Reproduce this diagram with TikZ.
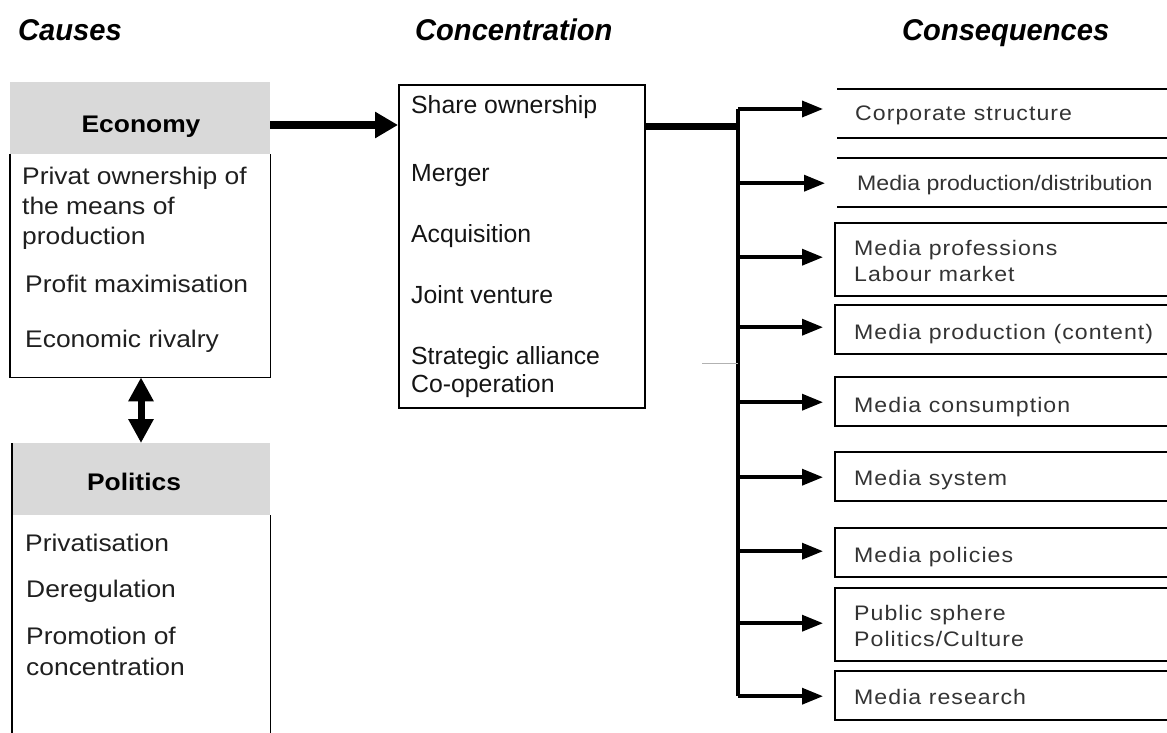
\documentclass[tikz,border=0pt]{standalone}
\usepackage{fontspec}
\setmainfont{Liberation Sans}
\newfontfamily\lfont[FakeStretch=1.1]{Liberation Sans}
\newfontfamily\hfont[FakeStretch=0.97]{Liberation Sans}
\newfontfamily\rfont[FakeStretch=1.1,LetterSpace=5]{Liberation Sans}
\newfontfamily\rfontn[FakeStretch=1.1]{Liberation Sans}
\usetikzlibrary{arrows.meta}
\definecolor{headgray}{HTML}{D9D9D9}
\begin{document}
\begin{tikzpicture}[x=1pt,y=-1pt,
  txtL/.style={anchor=base west, inner sep=0pt, font=\lfont\fontsize{24}{28}\selectfont, text=black!88},
  txtC/.style={anchor=base west, inner sep=0pt, font=\fontsize{24.8}{28}\selectfont, text=black!92},
  txtR/.style={anchor=base west, inner sep=0pt, font=\rfont\fontsize{21}{25}\selectfont, text=black!80},
  heading/.style={anchor=base west, inner sep=0pt, font=\hfont\bfseries\itshape\fontsize{30}{34}\selectfont},
  hdrbox/.style={fill=headgray, anchor=north west, inner sep=0pt},
  hdrtxt/.style={anchor=base, inner sep=0pt, font=\lfont\bfseries\fontsize{24}{28}\selectfont},
  boxline/.style={line width=1.8pt},
  rline/.style={line width=2pt},
  plain/.style={anchor=north west, inner sep=0pt},
  branch/.style={line width=3.5pt, -{Triangle[length=21pt,width=16pt]}},
  bigarrow/.style={line width=8pt, -{Triangle[length=23pt,width=25pt]}},
  dblarrow/.style={line width=7pt, {Triangle[length=24pt,width=24pt]}-{Triangle[length=24pt,width=24pt]}}
]
\useasboundingbox (0,0) rectangle (1167,733);
\fill[white] (0,0) rectangle (1167,733);

% headings
\node[heading] (hcauses) at (18,41) {Causes};
\node[heading] (hconc) at (415,41) {Concentration};
\node[heading] (hcons) at (902,41) {Consequences};

% Economy
\node[hdrbox, minimum width=260pt, minimum height=72pt] (econ) at (10,82) {};
\node[hdrtxt] (econt) at (141,132) {Economy};
\node[plain, minimum width=260pt, minimum height=223pt] (econbody) at (10,154) {};
\draw[boxline] (econbody.north west) -- (econbody.south west) -- (econbody.south east) -- (econbody.north east);
\node[txtL] (e1) at (22,184) {Privat ownership of};
\node[txtL] (e2) at (22,214) {the means of};
\node[txtL] (e3) at (22,244) {production};
\node[txtL] (e4) at (25,292) {Profit maximisation};
\node[txtL] (e5) at (25,347) {Economic rivalry};

% Politics
\node[hdrbox, minimum width=258pt, minimum height=72pt] (pol) at (12,443) {};
\node[hdrtxt] (polt) at (134,490) {Politics};
\node[plain, minimum width=258pt, minimum height=230pt] (polbody) at (12,515) {};
\draw[line width=1.2pt] (pol.north west) -- (polbody.south west);
\draw[boxline] (polbody.north east) -- (polbody.south east);
\node[txtL] (p1) at (25,551) {Privatisation};
\node[txtL] (p2) at (26,597) {Deregulation};
\node[txtL] (p3) at (26,644) {Promotion of};
\node[txtL] (p4) at (26,675) {concentration};

\draw[dblarrow] (econbody.south -| 141,0) -- (pol.north -| 141,0);

% Concentration
\node[plain, draw, boxline, minimum width=246pt, minimum height=323pt] (conc) at (398,84) {};
\node[txtC] (c1) at (411,114) {Share ownership};
\node[txtC] (c2) at (411,182) {Merger};
\node[txtC] (c3) at (411,242) {Acquisition};
\node[txtC] (c4) at (411,303) {Joint venture};
\node[txtC] (c5) at (411,364) {Strategic alliance};
\node[txtC] (c6) at (411,392) {Co-operation};

\draw[bigarrow] (econ.east |- 0,125) -- (conc.west |- 0,125);

% trunk
\coordinate (ttop) at (738,109);
\coordinate (tbot) at (738,696);
\draw[line width=7pt] (conc.east |- 0,127) -- (ttop |- 0,127);
\draw[line width=4pt] (ttop) -- (tbot);
\coordinate (g0) at (702,363);
\draw[black!30, line width=1pt] (g0) -- (ttop |- g0);

% right boxes
\node[plain, minimum width=340pt, minimum height=49pt] (r1) at (837,89) {};
\node[plain, minimum width=340pt, minimum height=49pt] (r2) at (837,158) {};
\node[plain, minimum width=340pt, minimum height=73pt] (r3) at (835,223) {};
\node[plain, minimum width=340pt, minimum height=49pt] (r4) at (835,305) {};
\node[plain, minimum width=340pt, minimum height=49pt] (r5) at (835,377) {};
\node[plain, minimum width=340pt, minimum height=49pt] (r6) at (835,452) {};
\node[plain, minimum width=340pt, minimum height=49pt] (r7) at (835,528) {};
\node[plain, minimum width=340pt, minimum height=73pt] (r8) at (835,588) {};
\node[plain, minimum width=340pt, minimum height=49pt] (r9) at (835,671) {};

\foreach \r in {r1,r2} {
  \draw[rline] (\r.north west) -- (\r.north east);
  \draw[rline] (\r.south west) -- (\r.south east);
}
\foreach \r in {r3,r4,r5,r6,r7,r8,r9} {
  \draw[rline] (\r.north east) -- (\r.north west) -- (\r.south west) -- (\r.south east);
}

\node[txtR] (t1) at (855,121) {Corporate structure};
\node[txtR, font=\rfontn\fontsize{21}{25}\selectfont] (t2) at (857,190.5) {Media production/distribution};
\node[txtR] (t3a) at (854,255.5) {Media professions};
\node[txtR] (t3b) at (854,281.5) {Labour market};
\node[txtR] (t4) at (854,339) {Media production (content)};
\node[txtR] (t5) at (854,412) {Media consumption};
\node[txtR] (t6) at (854,485) {Media system};
\node[txtR] (t7) at (854,562) {Media policies};
\node[txtR] (t8a) at (854,620) {Public sphere};
\node[txtR] (t8b) at (854,646) {Politics/Culture};
\node[txtR] (t9) at (854,704) {Media research};

% branches
\draw[branch] (ttop) -- ([xshift=-14pt]r1.west |- ttop);
\foreach \r/\ys in {r2/0.5,r3/-2.5,r4/-2.5,r5/0.5,r6/0.5,r7/-1.5,r8/-1.5,r9/0.5} {
  \path (\r.west) ++(0,\ys) coordinate (e\r);
  \draw[branch] (ttop |- e\r) -- ([xshift=-12pt]e\r);
}
\end{tikzpicture}
\end{document}
